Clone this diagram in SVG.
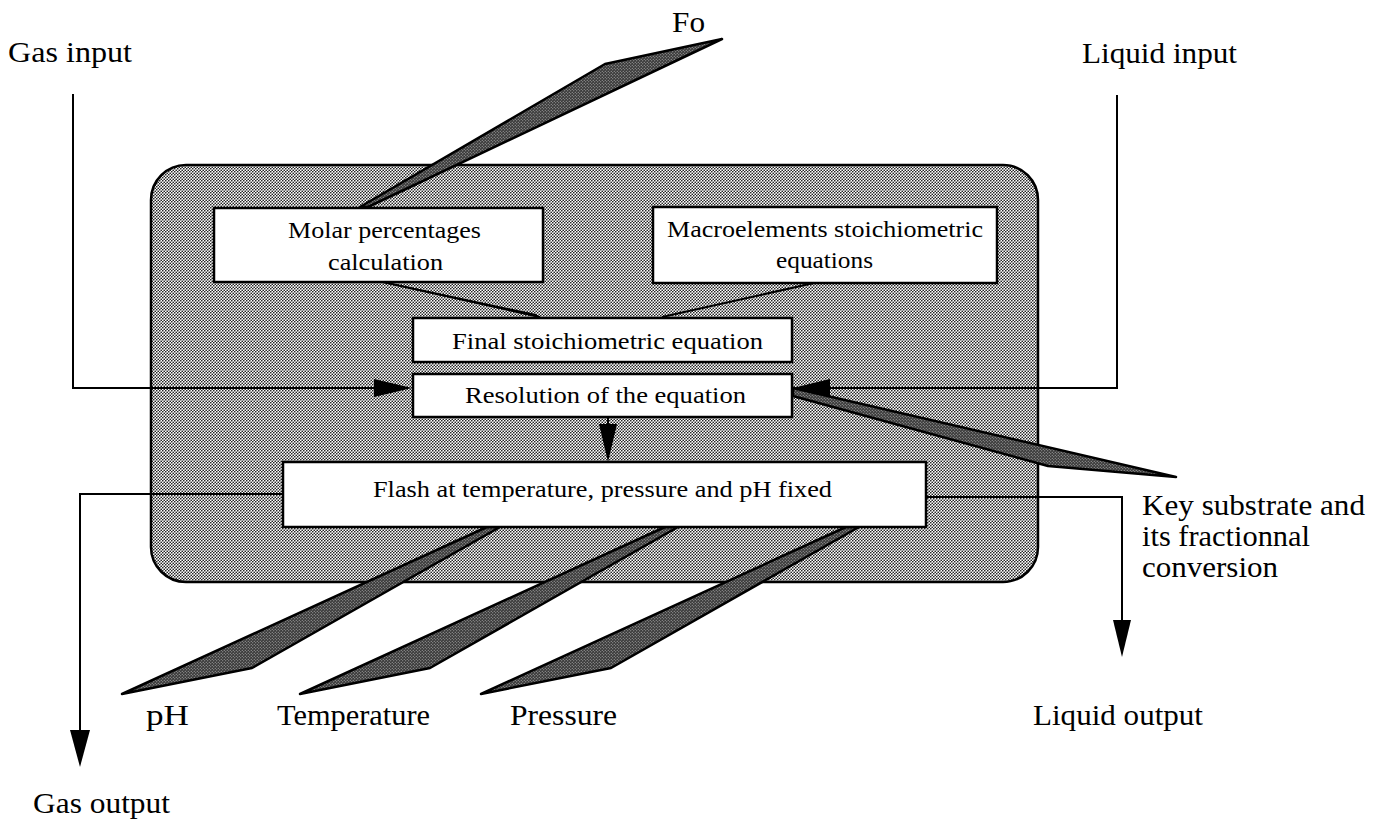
<svg xmlns="http://www.w3.org/2000/svg" width="1383" height="823" viewBox="0 0 1383 823">
<style>
  .lbl { font-family: "Liberation Serif", "Times New Roman", serif; font-size: 30px; fill: #000; }
  .btxt { font-family: "Liberation Serif", "Times New Roman", serif; font-size: 24px; fill: #000; }
  .box { fill: #fff; stroke: #000; stroke-width: 2.5; }
  .ln { fill: none; stroke: #000; stroke-width: 2; }
  .wedge { fill: url(#wedgePat); stroke: #000; stroke-width: 2.5; stroke-linejoin: round; }
  .head { fill: #000; stroke: none; }
</style>
<defs>
  <pattern id="dots" width="3" height="3" patternUnits="userSpaceOnUse">
    <rect width="3" height="3" fill="#ffffff"/>
    <circle cx="0.75" cy="0.75" r="0.85" fill="#222"/>
    <circle cx="2.25" cy="2.25" r="0.85" fill="#222"/>
  </pattern>
  <pattern id="wedgePat" width="3" height="3" patternUnits="userSpaceOnUse">
    <rect width="3" height="3" fill="#3a3a3a"/>
    <circle cx="0.75" cy="0.75" r="0.55" fill="#bbb"/>
    <circle cx="2.25" cy="2.25" r="0.55" fill="#bbb"/>
  </pattern>
</defs>
<rect width="1383" height="823" fill="#fff"/>

<g id="container">
  <rect x="151" y="165" width="887" height="417" rx="35" ry="35" fill="url(#dots)" stroke="#000" stroke-width="2.5"/>
</g>

<g id="connectors">
  <!-- gas input -->
  <polyline class="ln" points="73,94 73,388 380,388"/>
  <polygon class="head" points="412,388 374,379 374,397"/>
  <!-- liquid input -->
  <polyline class="ln" points="1117,95 1117,388 826,388"/>
  <polygon class="head" points="793,388 830,379 830,397"/>
  <!-- resolution to flash -->
  <line class="ln" x1="608" y1="417" x2="608" y2="428"/>
  <polygon class="head" points="608,462 599,424 617,424"/>
  <!-- gas output -->
  <polyline class="ln" points="283,494 80,494 80,735"/>
  <polygon class="head" points="80,767 70,730 90,730"/>
  <!-- liquid output -->
  <polyline class="ln" points="926,497 1122,497 1122,625"/>
  <polygon class="head" points="1122,657 1113,620 1131,620"/>
  <!-- lines into final equation -->
  <polygon class="head" points="377,280 380,282 541,318 536,314"/>
  <line x1="378" y1="281" x2="540" y2="317" stroke="#000" stroke-width="2"/>
  <line x1="823" y1="281" x2="662" y2="317" stroke="#000" stroke-width="2"/>
  <!-- wedges -->
  <polygon class="wedge" points="360,207 368,207 722,39 605,64"/>
  <polygon class="wedge" points="793,388 1176,477 1048,466 793,396"/>
  <polygon class="wedge" points="487,527 500,527 252,668 122,694"/>
  <polygon class="wedge" points="665,527 678,527 430,668 300,694"/>
  <polygon class="wedge" points="846,527 859,527 611,668 481,694"/>
</g>

<g id="molar">
  <rect class="box" x="214" y="208" width="329" height="74"/>
  <text class="btxt" x="288" y="238" textLength="193" lengthAdjust="spacingAndGlyphs">Molar percentages</text>
  <text class="btxt" x="328" y="270" textLength="115" lengthAdjust="spacingAndGlyphs">calculation</text>
</g>
<g id="macro">
  <rect class="box" x="653" y="207" width="344" height="76"/>
  <text class="btxt" x="667" y="237" textLength="316" lengthAdjust="spacingAndGlyphs">Macroelements stoichiometric</text>
  <text class="btxt" x="776" y="268" textLength="97" lengthAdjust="spacingAndGlyphs">equations</text>
</g>
<g id="final">
  <rect class="box" x="413" y="318" width="379" height="44"/>
  <text class="btxt" x="452" y="349" textLength="311" lengthAdjust="spacingAndGlyphs">Final stoichiometric equation</text>
</g>
<g id="resolution">
  <rect class="box" x="413" y="374" width="379" height="43"/>
  <text class="btxt" x="465" y="403" textLength="281" lengthAdjust="spacingAndGlyphs">Resolution of the equation</text>
</g>
<g id="flash">
  <rect class="box" x="283" y="462" width="643" height="65"/>
  <text class="btxt" x="373" y="497" textLength="459" lengthAdjust="spacingAndGlyphs">Flash at temperature, pressure and pH fixed</text>
</g>

<g id="labels">
  <text class="lbl" x="8" y="62" textLength="124" lengthAdjust="spacingAndGlyphs">Gas input</text>
  <text class="lbl" x="672" y="32" textLength="33" lengthAdjust="spacingAndGlyphs">Fo</text>
  <text class="lbl" x="1082" y="63" textLength="155" lengthAdjust="spacingAndGlyphs">Liquid input</text>
  <text class="lbl" x="1142" y="515" textLength="223" lengthAdjust="spacingAndGlyphs">Key substrate and</text>
  <text class="lbl" x="1142" y="546" textLength="168" lengthAdjust="spacingAndGlyphs">its fractionnal</text>
  <text class="lbl" x="1142" y="577" textLength="136" lengthAdjust="spacingAndGlyphs">conversion</text>
  <text class="lbl" x="146" y="725" textLength="43" lengthAdjust="spacingAndGlyphs">pH</text>
  <text class="lbl" x="277" y="725" textLength="153" lengthAdjust="spacingAndGlyphs">Temperature</text>
  <text class="lbl" x="510" y="725" textLength="107" lengthAdjust="spacingAndGlyphs">Pressure</text>
  <text class="lbl" x="1033" y="725" textLength="170" lengthAdjust="spacingAndGlyphs">Liquid output</text>
  <text class="lbl" x="33" y="813" textLength="137" lengthAdjust="spacingAndGlyphs">Gas output</text>
</g>
</svg>
